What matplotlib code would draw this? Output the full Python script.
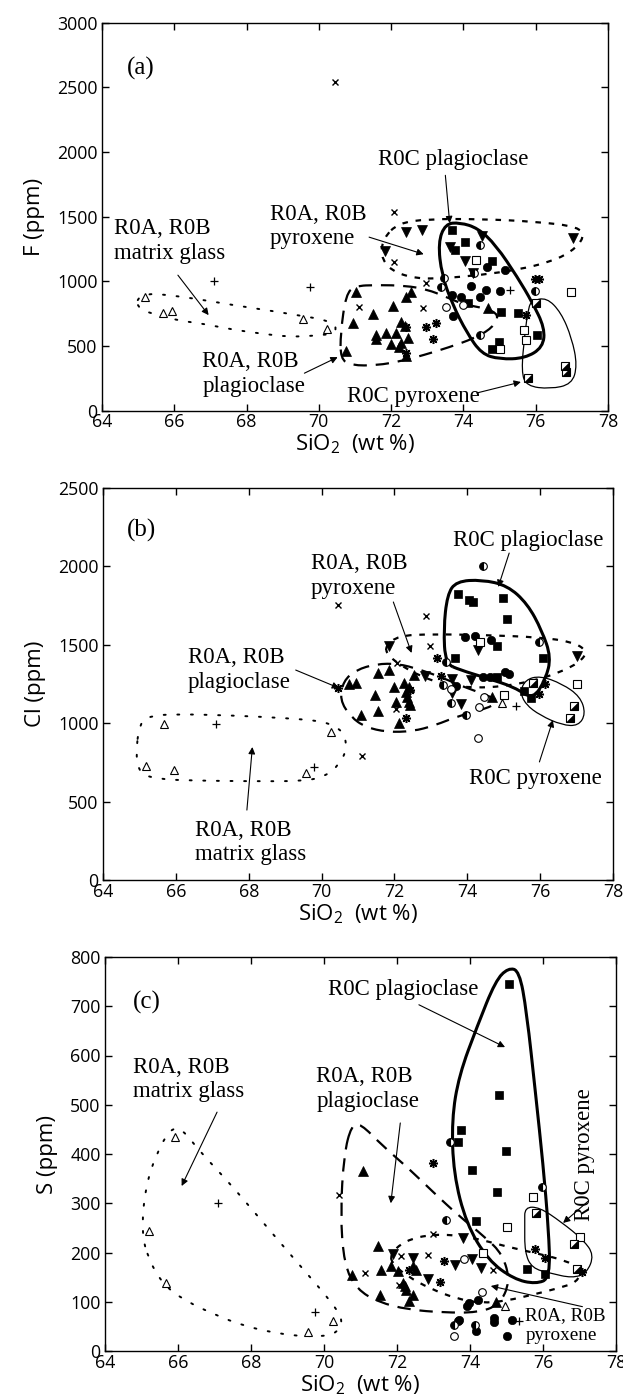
import numpy as np
import matplotlib
matplotlib.use('Agg')
import matplotlib.pyplot as plt
from matplotlib.path import Path
from matplotlib.patches import PathPatch

plt.rcParams['font.family'] = ['Open Sans', 'DejaVu Sans']
plt.rcParams['mathtext.fontset'] = 'custom'
plt.rcParams['mathtext.rm'] = 'Open Sans'
plt.rcParams['mathtext.it'] = 'Open Sans'

# ---------------- data: panel (a) F ----------------
a_tri_open = [(65.19, 876), (65.68, 758), (65.94, 771), (69.56, 706), (70.23, 632)]
a_plus = [(67.10, 1005), (69.76, 959), (75.30, 932)]
a_cross = [(70.45, 2545), (72.09, 1538), (72.09, 1151), (72.97, 984), (71.12, 804), (72.88, 791)]
a_tri_up = [(71.03, 920), (72.42, 880), (72.55, 915), (72.05, 809), (71.49, 744), (70.94, 680),
            (72.28, 688), (72.37, 654), (71.57, 585), (71.57, 552), (71.86, 603), (72.14, 603),
            (72.00, 515), (72.28, 520), (72.46, 559), (72.23, 495), (72.42, 422), (70.75, 464),
            (74.68, 791)]
a_star = [(72.40, 650), (72.97, 649), (73.25, 680), (73.16, 551), (72.42, 443), (75.98, 1015),
          (76.10, 1020), (75.74, 739)]
a_tri_dn = [(72.42, 1383), (72.86, 1396), (71.84, 1236), (74.50, 1350), (73.62, 1267),
            (74.05, 1159), (74.27, 1061), (77.04, 1332)]
a_sq = [(73.67, 1401), (74.05, 1306), (73.76, 1242), (74.80, 1159), (74.13, 835), (75.05, 765),
        (75.51, 757), (76.04, 585), (74.98, 533), (74.80, 477)]
a_circ = [(74.65, 1113), (75.14, 1087), (74.22, 963), (74.62, 932), (75.01, 927), (73.67, 894),
          (73.94, 876), (74.45, 876), (73.71, 732)]
a_ocirc = [(73.53, 804), (73.99, 817)]
a_half_circ = [(74.45, 1280), (74.30, 1065), (73.45, 1023), (73.39, 953), (75.98, 927), (74.45, 585)]
a_osq = [(74.34, 1169), (76.99, 920), (75.68, 623), (75.73, 546), (75.01, 477)]
a_half_sq = [(76.00, 829), (75.79, 250), (76.85, 301), (76.81, 348)]

a_glass_line = [(65.03, 880), (65.31, 905), (65.7, 898), (66.5, 870), (67.6, 818), (68.8, 767),
                (69.6, 729), (70.2, 702), (70.5, 650), (70.4, 596), (70.0, 582), (69.2, 570),
                (68.4, 596), (67.6, 628), (66.8, 672), (66.1, 698), (65.5, 742), (65.1, 778),
                (64.95, 830)]
a_plag_line = [(70.6, 600), (70.75, 900), (71.0, 965), (71.6, 972), (72.4, 967), (73.0, 937),
               (73.5, 882), (74.0, 822), (74.6, 792), (75.0, 742), (74.8, 640), (74.3, 560),
               (73.6, 490), (72.9, 430), (72.3, 385), (71.6, 350), (70.9, 350), (70.6, 400)]
a_pyx_line = [(72.2, 1450), (73.0, 1482), (74.5, 1482), (76.0, 1462), (77.2, 1422), (77.35, 1340),
              (77.0, 1230), (76.4, 1150), (75.5, 1090), (74.5, 1050), (73.5, 1025), (72.7, 1020),
              (72.0, 1080), (71.7, 1200), (71.8, 1340)]
a_plagC_line = [(73.5, 1445), (73.9, 1455), (74.4, 1412), (74.9, 1280), (75.5, 1030), (75.9, 840),
                (76.25, 640), (76.2, 490), (75.7, 405), (75.0, 398), (74.5, 440), (74.1, 600),
                (73.7, 820), (73.4, 1050), (73.3, 1300)]
a_pyxC_line = [(75.9, 850), (76.3, 875), (76.7, 760), (77.0, 560), (77.15, 350), (77.0, 205),
               (76.4, 168), (75.75, 190), (75.6, 300), (75.7, 600), (75.8, 800)]

# ---------------- data: panel (b) Cl ----------------
b_tri_open = [(65.68, 996), (65.19, 728), (65.96, 702), (70.26, 947), (69.57, 685), (74.96, 1128)]
b_plus = [(67.09, 996), (69.78, 723), (75.33, 1111)]
b_cross = [(70.44, 1754), (72.87, 1684), (72.97, 1494), (72.08, 1384), (72.05, 1089), (71.11, 791)]
b_tri_up = [(70.74, 1251), (70.95, 1259), (71.55, 1319), (71.85, 1340), (72.54, 1308),
            (71.99, 1234), (72.26, 1255), (72.40, 1234), (72.31, 1202), (72.35, 1170),
            (72.40, 1138), (72.03, 1138), (72.44, 1117), (71.48, 1180), (71.07, 1053),
            (71.54, 1078), (72.12, 1000), (74.68, 1170)]
b_star = [(70.45, 1223), (73.16, 1416), (73.27, 1302), (72.43, 1212), (72.33, 1032),
          (75.98, 1185), (76.12, 1251)]
b_tri_dn = [(71.86, 1490), (74.30, 1468), (77.00, 1426), (72.84, 1302), (73.58, 1283),
            (74.10, 1276), (73.58, 1191), (73.82, 1125)]
b_sq = [(73.75, 1824), (74.05, 1786), (74.15, 1775), (74.98, 1796), (75.08, 1663), (74.82, 1494),
        (76.07, 1415), (73.66, 1416), (74.81, 1293), (75.57, 1208), (75.75, 1159)]
b_circ = [(73.93, 1549), (74.20, 1557), (74.64, 1532), (75.03, 1325), (75.14, 1314),
          (74.42, 1297), (74.62, 1293), (73.69, 1238)]
b_ocirc = [(73.55, 1217), (74.33, 1106), (74.47, 1170), (74.30, 904)]
b_half_circ = [(74.42, 2001), (75.97, 1521), (73.41, 1388), (73.32, 1244), (73.55, 1127),
               (73.96, 1053)]
b_osq = [(74.34, 1515), (77.00, 1250), (75.00, 1180)]
b_half_sq = [(75.80, 1255), (76.93, 1111), (76.83, 1030)]

b_glass_line = [(65.0, 1000), (65.3, 1048), (66.0, 1058), (67.5, 1050), (69.0, 1033), (70.1, 1012),
                (70.6, 950), (70.7, 840), (70.5, 740), (70.1, 660), (69.5, 630), (68.0, 630),
                (66.5, 634), (65.5, 643), (65.0, 680), (64.9, 800)]
b_plag_line = [(70.5, 1150), (70.6, 1270), (70.95, 1340), (71.5, 1378), (72.1, 1380), (72.7, 1342),
               (73.3, 1292), (73.9, 1232), (74.5, 1182), (74.9, 1140), (74.5, 1090), (73.8, 1050),
               (73.1, 985), (72.5, 948), (71.8, 943), (71.2, 975), (70.8, 1040)]
b_pyx_line = [(71.75, 1490), (72.1, 1558), (73.0, 1568), (74.5, 1562), (76.0, 1548), (76.9, 1518),
              (77.3, 1460), (77.1, 1390), (76.5, 1320), (75.8, 1270), (75.0, 1235), (74.2, 1225),
              (73.4, 1245), (72.7, 1300), (72.1, 1380), (71.8, 1440)]
b_plagC_line = [(73.4, 1380), (73.35, 1600), (73.45, 1820), (73.7, 1905), (74.4, 1915),
                (75.1, 1878), (75.65, 1762), (76.05, 1590), (76.3, 1420), (76.15, 1280),
                (75.8, 1150), (75.3, 1230), (74.5, 1290), (73.8, 1340)]
b_pyxC_line = [(75.45, 1200), (75.6, 1278), (76.0, 1302), (76.6, 1252), (77.1, 1170),
               (77.25, 1060), (77.05, 983), (76.6, 988), (76.0, 1050), (75.6, 1120)]

# ---------------- data: panel (c) S ----------------
c_tri_open = [(65.92, 434), (65.21, 244), (65.68, 139), (69.55, 39), (70.24, 60), (74.95, 92)]
c_plus = [(67.10, 301), (69.76, 80), (75.35, 60)]
c_cross = [(70.41, 317), (71.13, 158), (72.11, 193), (72.06, 135), (72.85, 195), (72.98, 237),
           (74.64, 165)]
c_tri_up = [(71.07, 366), (71.48, 214), (70.76, 155), (71.56, 165), (71.54, 114), (71.83, 173),
            (72.02, 163), (72.43, 173), (72.51, 164), (72.16, 138), (72.23, 131), (72.25, 123),
            (72.45, 114), (72.34, 101), (74.71, 99)]
c_star = [(72.98, 381), (72.34, 165), (73.17, 141), (73.28, 182), (75.77, 207), (76.06, 189),
          (77.08, 161)]
c_tri_dn = [(71.88, 197), (72.43, 189), (72.85, 146), (73.58, 175), (74.06, 187), (74.29, 168),
            (73.81, 229)]
c_sq = [(75.06, 746), (74.79, 519), (73.76, 449), (73.66, 425), (74.99, 407), (74.05, 367),
        (74.75, 322), (74.16, 264), (75.56, 166), (76.05, 156)]
c_osq = [(75.73, 312), (75.01, 252), (77.01, 231), (74.35, 200)]
c_half_sq = [(75.80, 280), (76.84, 217), (76.94, 166)]
c_half_circ = [(73.44, 425), (73.35, 266), (75.97, 334), (73.57, 53), (74.13, 53)]
c_circ = [(73.98, 97), (74.21, 104), (73.67, 60), (73.71, 62), (74.16, 41), (74.65, 66),
          (74.67, 58), (75.01, 30), (75.14, 62), (73.93, 91)]
c_ocirc = [(73.84, 187), (74.33, 120), (73.57, 30)]

c_glass_line = [(65.0, 240), (65.1, 330), (65.4, 400), (65.8, 452), (66.1, 452), (66.6, 405),
                (67.3, 350), (68.0, 290), (68.8, 220), (69.5, 160), (70.2, 100), (70.55, 60),
                (70.3, 32), (69.5, 29), (68.7, 36), (67.8, 51), (67.0, 74), (66.2, 102),
                (65.6, 134), (65.2, 185)]
c_plag_line = [(70.75, 458), (71.0, 462), (71.6, 417), (72.3, 372), (73.0, 322), (73.7, 274),
               (74.4, 232), (74.9, 196), (75.1, 140), (74.8, 93), (74.2, 78), (73.3, 78),
               (72.3, 84), (71.5, 99), (70.9, 125), (70.55, 175), (70.45, 280), (70.55, 400)]
c_pyx_line = [(71.8, 195), (72.2, 224), (73.0, 238), (74.0, 232), (75.0, 212), (75.9, 197),
              (76.6, 184), (77.05, 167), (76.95, 140), (76.4, 127), (75.7, 114), (75.0, 102),
              (74.3, 97), (73.6, 107), (72.9, 127), (72.3, 151), (71.9, 175)]
c_plagC_line = [(75.05, 778), (75.35, 772), (75.55, 690), (75.8, 520), (76.0, 380), (76.15, 250),
                (76.2, 148), (75.8, 136), (75.2, 146), (74.5, 184), (73.9, 258), (73.55, 360),
                (73.5, 470), (73.7, 560), (74.2, 660), (74.7, 752)]
c_pyxC_line = [(75.5, 292), (75.9, 292), (76.5, 262), (77.1, 226), (77.4, 195), (77.2, 158),
               (76.8, 148), (76.2, 158), (75.7, 168), (75.5, 200), (75.5, 260)]

# ---------------- styles ----------------
STY = {
    'tri_open': dict(marker='^', ms=5.5, mfc='white', mec='k', mew=0.8),
    'plus': dict(marker='+', ms=6, mec='k', mew=0.9),
    'cross': dict(marker='x', ms=5, mec='k', mew=1.0),
    'tri_up': dict(marker='^', ms=6.5, mfc='k', mec='k', mew=0.5),
    'star': dict(marker=(8, 2, 0), ms=6.5, mec='k', mew=1.1),
    'tri_dn': dict(marker='v', ms=6.5, mfc='k', mec='k', mew=0.5),
    'sq': dict(marker='s', ms=5.8, mfc='k', mec='k', mew=0.5),
    'circ': dict(marker='o', ms=6, mfc='k', mec='k', mew=0.5),
    'ocirc': dict(marker='o', ms=5.5, mfc='white', mec='k', mew=0.8),
    'half_circ': dict(marker='o', ms=5.5, fillstyle='left', mfc='k', markerfacecoloralt='white',
                      mec='k', mew=0.8),
    'osq': dict(marker='s', ms=5.5, mfc='white', mec='k', mew=0.8),
}
HALF_TRI = [(-1, -1), (1, -1), (1, 1), (-1, -1)]

LINE_STY = {
    'glass': dict(lw=1.4, ls=(0, (1, 6)), capstyle='round'),
    'plag': dict(lw=1.6, ls=(0, (6, 4))),
    'pyx': dict(lw=1.6, ls=(0, (2.5, 3.5))),
    'plagC': dict(lw=2.2, ls='-'),
    'pyxC': dict(lw=0.9, ls='-'),
}


def smooth_outline(ax, pts, **kw):
    P = np.asarray(pts, float)
    n = len(P)
    M = (P + np.roll(P, -1, axis=0)) / 2.0
    verts = [M[-1]]
    codes = [Path.MOVETO]
    for i in range(n):
        verts += [P[i], M[i]]
        codes += [Path.CURVE3, Path.CURVE3]
    ax.add_patch(PathPatch(Path(verts, codes), fill=False, edgecolor='k', zorder=2, **kw))


def scatter(ax, pts, key):
    if not pts:
        return
    x, y = zip(*pts)
    if key == 'half_sq':
        ax.plot(x, y, ls='none', zorder=4, **STY['osq'])
        ax.plot(x, y, ls='none', marker=HALF_TRI, ms=5.5, mfc='k', mec='k', mew=0.3, zorder=5)
    else:
        ax.plot(x, y, ls='none', zorder=4, **STY[key])


SERIF = ['Liberation Serif', 'DejaVu Serif']
ANN_FS = 16.5


def note(ax, x, y, s, ha='left', fs=ANN_FS, rot=0):
    ax.text(x, y, s, ha=ha, va='center', family=SERIF, fontsize=fs, linespacing=1.2,
            rotation=rot, zorder=6)


def arrow(ax, start, end):
    ax.annotate('', xy=end, xytext=start,
                arrowprops=dict(arrowstyle='-|>', lw=0.8, color='k', mutation_scale=10,
                                shrinkA=0, shrinkB=0), zorder=6)


W, H = 623, 1399
fig = plt.figure(figsize=(W / 100, H / 100), dpi=100)

panels = [
    dict(rect=(102, 22.7, 608, 410.7), ymax=3000, ystep=500, ylabel='F (ppm)'),
    dict(rect=(103, 488, 613, 880), ymax=2500, ystep=500, ylabel='Cl (ppm)'),
    dict(rect=(105, 957, 616, 1351), ymax=800, ystep=100, ylabel='S (ppm)'),
]
axes = []
for p in panels:
    l, t, r, b = p['rect']
    ax = fig.add_axes([l / W, 1 - b / H, (r - l) / W, (b - t) / H])
    ax.set_xlim(64, 78)
    ax.set_ylim(0, p['ymax'])
    ax.set_xticks(np.arange(64, 79, 2))
    ax.set_yticks(np.arange(0, p['ymax'] + 1, p['ystep']))
    ax.tick_params(direction='in', top=True, right=True, length=5, width=1.0,
                   labelsize=12.8)
    ax.tick_params(axis='y', pad=3.2)
    ax.tick_params(axis='x', pad=2.0)
    for sp in ax.spines.values():
        sp.set_linewidth(1.0)
    ax.set_xlabel(r'SiO$_2$  (wt %)', fontsize=16, labelpad=1)
    ax.set_ylabel(p['ylabel'], fontsize=16, labelpad=9)
    axes.append(ax)

axa, axb, axc = axes

# ---- panel (a)
for pts, k in [(a_glass_line, 'glass'), (a_plag_line, 'plag'), (a_pyx_line, 'pyx'),
               (a_plagC_line, 'plagC'), (a_pyxC_line, 'pyxC')]:
    smooth_outline(axa, pts, **LINE_STY[k])
for pts, k in [(a_tri_open, 'tri_open'), (a_plus, 'plus'), (a_cross, 'cross'),
               (a_tri_up, 'tri_up'), (a_star, 'star'), (a_tri_dn, 'tri_dn'), (a_sq, 'sq'),
               (a_circ, 'circ'), (a_ocirc, 'ocirc'), (a_half_circ, 'half_circ'),
               (a_osq, 'osq'), (a_half_sq, 'half_sq')]:
    scatter(axa, pts, k)
note(axa, 64.7, 2650, '(a)', fs=18)
note(axa, 73.71, 1939, 'R0C plagioclase', ha='center')
note(axa, 68.65, 1427, 'R0A, R0B\npyroxene')
note(axa, 64.33, 1312, 'R0A, R0B\nmatrix glass')
note(axa, 66.77, 284, 'R0A, R0B\nplagioclase')
note(axa, 70.79, 106, 'R0C pyroxene')
arrow(axa, (73.5, 1820), (73.62, 1450))
arrow(axa, (71.39, 1342), (72.9, 1210))
arrow(axa, (66.1, 1048), (66.95, 739))
arrow(axa, (69.6, 290), (70.52, 414))
arrow(axa, (74.37, 137), (75.59, 222))

# ---- panel (b)
for pts, k in [(b_glass_line, 'glass'), (b_plag_line, 'plag'), (b_pyx_line, 'pyx'),
               (b_plagC_line, 'plagC'), (b_pyxC_line, 'pyxC')]:
    smooth_outline(axb, pts, **LINE_STY[k])
for pts, k in [(b_tri_open, 'tri_open'), (b_plus, 'plus'), (b_cross, 'cross'),
               (b_tri_up, 'tri_up'), (b_star, 'star'), (b_tri_dn, 'tri_dn'), (b_sq, 'sq'),
               (b_circ, 'circ'), (b_ocirc, 'ocirc'), (b_half_circ, 'half_circ'),
               (b_osq, 'osq'), (b_half_sq, 'half_sq')]:
    scatter(axb, pts, k)
note(axb, 64.66, 2232, '(b)', fs=18)
note(axb, 75.68, 2168, 'R0C plagioclase', ha='center')
note(axb, 69.71, 1939, 'R0A, R0B\npyroxene')
note(axb, 66.32, 1339, 'R0A, R0B\nplagioclase')
note(axb, 66.53, 239, 'R0A, R0B\nmatrix glass')
note(axb, 74.05, 650, 'R0C pyroxene')
arrow(axb, (75.15, 2085), (74.85, 1869))
arrow(axb, (71.97, 1773), (72.47, 1448))
arrow(axb, (69.29, 1339), (70.48, 1224))
arrow(axb, (67.95, 446), (68.1, 848))
arrow(axb, (75.98, 753), (76.35, 1020))

# ---- panel (c)
for pts, k in [(c_glass_line, 'glass'), (c_plag_line, 'plag'), (c_pyx_line, 'pyx'),
               (c_plagC_line, 'plagC'), (c_pyxC_line, 'pyxC')]:
    smooth_outline(axc, pts, **LINE_STY[k])
for pts, k in [(c_tri_open, 'tri_open'), (c_plus, 'plus'), (c_cross, 'cross'),
               (c_tri_up, 'tri_up'), (c_star, 'star'), (c_tri_dn, 'tri_dn'), (c_sq, 'sq'),
               (c_circ, 'circ'), (c_ocirc, 'ocirc'), (c_half_circ, 'half_circ'),
               (c_osq, 'osq'), (c_half_sq, 'half_sq')]:
    scatter(axc, pts, k)
note(axc, 64.77, 707, '(c)', fs=18)
note(axc, 72.18, 735, 'R0C plagioclase', ha='center')
note(axc, 64.77, 552, 'R0A, R0B\nmatrix glass')
note(axc, 69.79, 532, 'R0A, R0B\nplagioclase')
note(axc, 77.15, 398, 'R0C pyroxene', ha='center', rot=90)
note(axc, 75.52, 51, 'R0A, R0B\npyroxene', fs=13.8)
arrow(axc, (72.6, 703), (74.96, 617))
arrow(axc, (67.07, 485), (66.1, 335))
arrow(axc, (72.09, 463), (71.83, 300))
arrow(axc, (77.25, 305), (76.55, 260))
arrow(axc, (77.08, 90), (74.57, 132))

fig.savefig('out.png', dpi=100)
